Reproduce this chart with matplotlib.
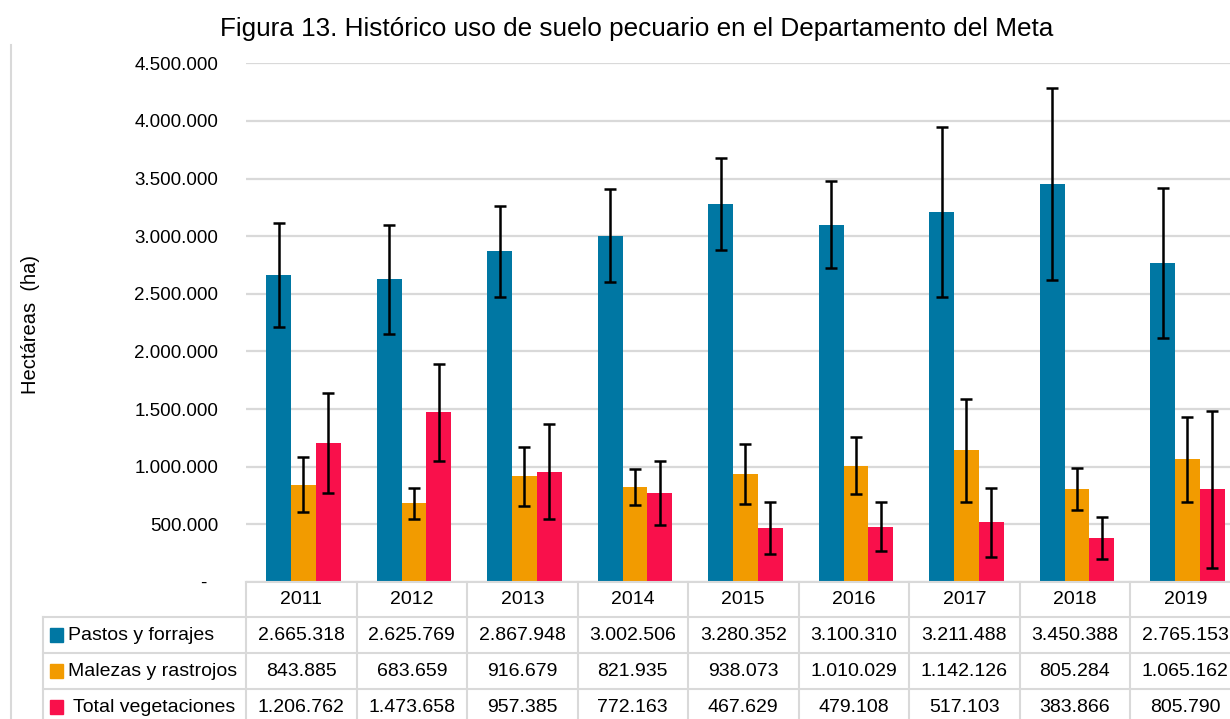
import numpy as np
import matplotlib.pyplot as plt
from matplotlib.lines import Line2D
from matplotlib.patches import Rectangle
from matplotlib.ticker import FuncFormatter
import matplotlib.transforms as mtransforms

plt.rcParams['font.family'] = ['Liberation Sans', 'DejaVu Sans']

# datos
years = ['2011', '2012', '2013', '2014', '2015', '2016', '2017', '2018', '2019']
pastos = [2665318, 2625769, 2867948, 3002506, 3280352, 3100310, 3211488, 3450388, 2765153]
malezas = [843885, 683659, 916679, 821935, 938073, 1010029, 1142126, 805284, 1065162]
total = [1206762, 1473658, 957385, 772163, 467629, 479108, 517103, 383866, 805790]
# barras de error
err_pastos = [450000, 470000, 397000, 403000, 396000, 380000, 740000, 832000, 652000]
err_malezas = [237000, 133000, 255000, 158000, 261000, 250000, 445000, 181000, 369000]
err_total = [433000, 420000, 414000, 274000, 226000, 214000, 300000, 183000, 682000]
labels = ['Pastos y forrajes', 'Malezas y rastrojos', ' Total vegetaciones']
colores = ['#0077A3', '#F29B00', '#F9104B']

W, H = 1230, 719
fig = plt.figure(figsize=(W/100, H/100), dpi=100)

def fx(px):
    return px / W

def fy(py):
    return 1 - py / H

y0, ytop = 582, 63.3
colw = 110.5
ax = fig.add_axes([fx(246), fy(y0), fx(9*colw), (y0 - ytop)/H])

x = np.arange(len(years))
w = 0.225
series = [pastos, malezas, total]
errores = [err_pastos, err_malezas, err_total]
for k in range(3):
    ax.bar(x + (k - 1)*w + 0.02, series[k], w, color=colores[k],
           yerr=errores[k], capsize=4,
           error_kw=dict(elinewidth=1.8, capthick=1.8, ecolor='black'))

ax.set_xlim(-0.5, 8.5)
ax.set_ylim(0, 4500000)
ax.set_yticks(np.arange(0, 4500001, 500000))
ax.yaxis.set_major_formatter(FuncFormatter(
    lambda v, p: '-  ' if v == 0 else f'{int(v):,}'.replace(',', '.')))
ax.tick_params(axis='y', length=0, pad=20, labelsize=13.5)
ax.set_xticks([])
ax.yaxis.grid(True, color='#D9D9D9', linewidth=1.6)
ax.set_axisbelow(True)
for s in ax.spines.values():
    s.set_visible(False)

fig.text(fx(637), fy(29), 'Figura 13. Histórico uso de suelo pecuario en el Departamento del Meta',
         ha='center', va='center', fontsize=18.8)
fig.text(fx(30), fy(325), 'Hectáreas  (ha)', rotation=90, ha='center', va='center', fontsize=14.5)

# borde izquierdo
fig.add_artist(Line2D([fx(11), fx(11)], [fy(45), 0], color='#D9D9D9', lw=1.5))

# tabla de datos
gris = '#D9D9D9'
trans = mtransforms.blended_transform_factory(ax.transData, fig.transFigure)
rows = [582, 617, 653, 689, 725]
for i in range(len(years) + 1):
    ax.add_artist(Line2D([i - 0.5, i - 0.5], [fy(rows[0]), fy(rows[-1])],
                         transform=trans, color=gris, lw=1.5, clip_on=False))
ax.add_artist(Line2D([-0.5, 8.5], [fy(rows[0]), fy(rows[0])],
                     transform=trans, color=gris, lw=1.5, clip_on=False))
for r in rows[1:4]:
    fig.add_artist(Line2D([fx(43), 1], [fy(r), fy(r)], color=gris, lw=1.5))
fig.add_artist(Line2D([fx(43), fx(43)], [fy(rows[1]), 0], color=gris, lw=1.5))

for i, yr in enumerate(years):
    ax.text(i, fy((rows[0] + rows[1])/2), yr, transform=trans, ha='center', va='center',
            fontsize=14, clip_on=False)
for k in range(3):
    yc = fy((rows[k+1] + rows[k+2])/2)
    for i, v in enumerate(series[k]):
        ax.text(i, yc, f'{v:,}'.replace(',', '.'), transform=trans, ha='center',
                va='center', fontsize=14, clip_on=False)
    fig.add_artist(Rectangle((fx(50), yc - 7/H), 13/W, 14/H, color=colores[k],
                             transform=fig.transFigure))
    fig.text(fx(68), yc, labels[k], ha='left', va='center', fontsize=14)

fig.savefig('out.png', dpi=100)
